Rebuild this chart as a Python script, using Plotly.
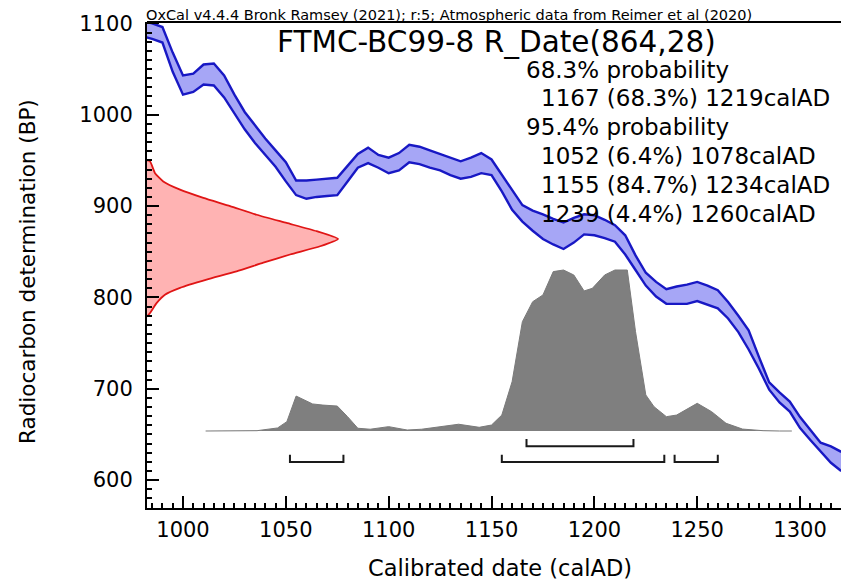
import plotly.graph_objects as go

# ---------------- data ----------------
# Calibration curve (IntCal20 band edges, BP)
cal_years = [980, 985, 990, 995, 1000, 1005, 1010, 1015, 1020, 1025, 1030, 1035, 1040, 1045,
             1050, 1055, 1060, 1065, 1070, 1075, 1080, 1085, 1090, 1095, 1100, 1105, 1110,
             1115, 1120, 1125, 1130, 1135, 1140, 1145, 1150, 1155, 1160, 1165, 1170, 1175,
             1180, 1185, 1190, 1195, 1200, 1205, 1210, 1215, 1220, 1225, 1230, 1235, 1240,
             1245, 1250, 1255, 1260, 1265, 1270, 1275, 1280, 1285, 1290, 1295, 1300, 1305,
             1310, 1315, 1320]
cal_upper = [1103, 1100, 1096, 1068, 1043, 1045, 1055, 1056, 1043, 1022, 1003, 988, 974, 961,
             948, 928, 928, 929, 930, 931, 944, 957, 964, 956, 953, 958, 967,
             965, 961, 957, 953, 949, 953, 958, 951, 934, 917, 901, 895, 891,
             886, 882, 887, 891, 890, 885, 879, 868, 846, 827, 817, 809, 812,
             814, 817, 813, 808, 795, 780, 764, 735, 707, 696, 686, 669, 655,
             641, 637, 631]
cal_lower = [1086, 1083, 1079, 1047, 1022, 1025, 1033, 1032, 1019, 1001, 984, 969, 956, 943,
             927, 912, 908, 910, 911, 912, 927, 942, 947, 942, 936, 939, 948,
             946, 942, 939, 934, 930, 932, 936, 934, 916, 896, 883, 873, 864,
             858, 853, 860, 869, 868, 865, 861, 847, 830, 813, 801, 793, 793,
             793, 796, 792, 788, 777, 762, 743, 722, 699, 685, 675, 657, 644,
             631, 619, 610]

# Radiocarbon date R_Date(864,28): relative probability against BP
rdate_bp = [950, 949, 936, 927, 918, 909, 900, 890.5, 881.5, 872.5, 864,
            856, 847, 838, 828.5, 819.5, 810.5, 803, 794, 783, 779]
rdate_prob = [0.0, 0.016, 0.042, 0.085, 0.173, 0.295, 0.435, 0.574, 0.731, 0.888, 1.0,
              0.906, 0.749, 0.609, 0.469, 0.312, 0.173, 0.094, 0.051, 0.016, 0.0]

# Calibrated date: relative probability against calAD
post_years = [1011, 1036, 1046, 1050.5, 1055, 1063, 1068, 1075, 1080, 1085, 1091, 1100, 1109,
              1116, 1134, 1144, 1150, 1155, 1160, 1165, 1170, 1175, 1180, 1185, 1190, 1195,
              1199, 1205, 1210, 1216, 1220, 1225, 1229, 1235, 1240, 1250, 1257, 1264, 1272,
              1282, 1290, 1296]
post_prob = [0.0, 0.002, 0.019, 0.058, 0.217, 0.168, 0.161, 0.155, 0.089, 0.017, 0.011, 0.027,
             0.006, 0.011, 0.042, 0.023, 0.037, 0.099, 0.306, 0.679, 0.803, 0.845, 0.99, 1.0,
             0.969, 0.870, 0.886, 0.969, 1.0, 1.0, 0.617, 0.224, 0.151, 0.089, 0.099, 0.172,
             0.12, 0.048, 0.012, 0.002, 0.0, 0.0]

# Ranges
ranges_68 = [(1167, 1219)]
ranges_95 = [(1052, 1078), (1155, 1234), (1239, 1260)]

title_text = "FTMC-BC99-8 R_Date(864,28)"
header_text = "OxCal v4.4.4 Bronk Ramsey (2021); r:5; Atmospheric data from Reimer et al (2020)"
summary_lines = ["68.3% probability", "1167 (68.3%) 1219calAD", "95.4% probability",
                 "1052 (6.4%) 1078calAD", "1155 (84.7%) 1234calAD", "1239 (4.4%) 1260calAD"]
summary_indent = [False, True, False, True, True, True]

# ---------------- layout constants ----------------
W, H = 841, 586
L, R, T, B = 147, 0, 22, 78
PW, PH = W - L - R, H - T - B
FONT = "DejaVu Sans"
XR = [982.5, 1319.9]
YR = [569.5, 1101.5]
BLUE_LINE = "#1818c4"
BLUE_FILL = "#a6a6f6"


def px_x(p):
    return (p - L) / PW


def px_y(p):
    return 1 - (p - T) / PH


fig = go.Figure()

# calibration band
fig.add_trace(go.Scatter(
    x=cal_years + cal_years[::-1], y=cal_upper + cal_lower[::-1],
    fill="toself", fillcolor=BLUE_FILL, line=dict(width=0), mode="lines",
    hoverinfo="skip", showlegend=False))
for edge in (cal_upper, cal_lower):
    fig.add_trace(go.Scatter(x=cal_years, y=edge, mode="lines",
                             line=dict(color=BLUE_LINE, width=2.4), showlegend=False))

# radiocarbon date on y axis (xaxis2 = relative probability)
fig.add_trace(go.Scatter(
    x=rdate_prob, y=rdate_bp, xaxis="x2", yaxis="y", mode="lines",
    line=dict(color="#e01515", width=1.8, shape="spline", smoothing=0.5),
    fill="tozerox", fillcolor="#ffb3b3", showlegend=False))

# posterior on x axis (yaxis2 = relative probability)
fig.add_trace(go.Scatter(
    x=post_years, y=post_prob, xaxis="x", yaxis="y2", mode="lines",
    line=dict(color="#7a7a7a", width=1), fill="tozeroy", fillcolor="#7f7f7f",
    showlegend=False))

# range brackets (levels in yaxis2 units)
def bracket_trace(ranges, level, top):
    xs, ys = [], []
    for a, b in ranges:
        xs += [a, a, b, b, None]
        ys += [top, level, level, top, None]
    return go.Scatter(x=xs, y=ys, xaxis="x", yaxis="y2", mode="lines",
                      line=dict(color="#1a1a1a", width=2), showlegend=False)

fig.add_trace(bracket_trace(ranges_68, -0.095, -0.05))
fig.add_trace(bracket_trace(ranges_95, -0.193, -0.148))

axis_font = dict(family=FONT, size=21, color="black")

fig.update_layout(
    width=W, height=H,
    margin=dict(l=L, r=R, t=T, b=B, pad=0),
    paper_bgcolor="white", plot_bgcolor="white",
    font=dict(family=FONT, color="black"),
    showlegend=False,
    xaxis=dict(range=XR, showgrid=False, zeroline=False, showline=True,
               linecolor="black", linewidth=2, ticks="inside", ticklen=12,
               tickwidth=2, tickcolor="black", dtick=50, tick0=1000,
               tickfont=axis_font, ticklabelstandoff=2,
               minor=dict(dtick=5, ticks="inside", ticklen=5, tickwidth=1.5,
                          tickcolor="black", showgrid=False)),
    yaxis=dict(range=YR, showgrid=False, zeroline=False, showline=True,
               linecolor="black", linewidth=2, ticks="inside", ticklen=12,
               tickwidth=2, tickcolor="black", dtick=100, tick0=600,
               tickfont=axis_font, ticklabelstandoff=8,
               minor=dict(dtick=10, ticks="inside", ticklen=5, tickwidth=1.5,
                          tickcolor="black", showgrid=False)),
    xaxis2=dict(overlaying="x", range=[0, PW / 191], visible=False),
    yaxis2=dict(overlaying="y", range=[-77 / 161, 409 / 161], visible=False),
    shapes=[dict(type="line", xref="paper", yref="paper", x0=0, x1=1, y0=1, y1=1,
                 line=dict(color="black", width=2))],
)

ann = []
ann.append(dict(text=header_text, xref="paper", yref="paper", x=px_x(144), y=1,
                xanchor="left", yanchor="bottom", yshift=-3, showarrow=False,
                font=dict(family=FONT, size=14.5, color="black")))
ann.append(dict(text=title_text, xref="paper", yref="paper", x=px_x(496), y=px_y(42),
                xanchor="center", yanchor="middle", showarrow=False,
                font=dict(family=FONT, size=29.5, color="black")))
line_y = [70, 98, 127, 156, 185, 214]
for txt, ind, py in zip(summary_lines, summary_indent, line_y):
    ann.append(dict(text=txt, xref="paper", yref="paper",
                    x=px_x(539 if ind else 524), y=px_y(py),
                    xanchor="left", yanchor="middle", showarrow=False,
                    font=dict(family=FONT, size=23, color="black")))
ann.append(dict(text="Radiocarbon determination (BP)", xref="paper", yref="paper",
                x=px_x(27), y=px_y(272), textangle=-90, xanchor="center",
                yanchor="middle", showarrow=False,
                font=dict(family=FONT, size=21.5, color="black")))
ann.append(dict(text="Calibrated date (calAD)", xref="paper", yref="paper",
                x=px_x(500), y=px_y(568), xanchor="center", yanchor="middle",
                showarrow=False, font=dict(family=FONT, size=22.5, color="black")))
fig.update_layout(annotations=ann)

fig.write_html("out.html")
